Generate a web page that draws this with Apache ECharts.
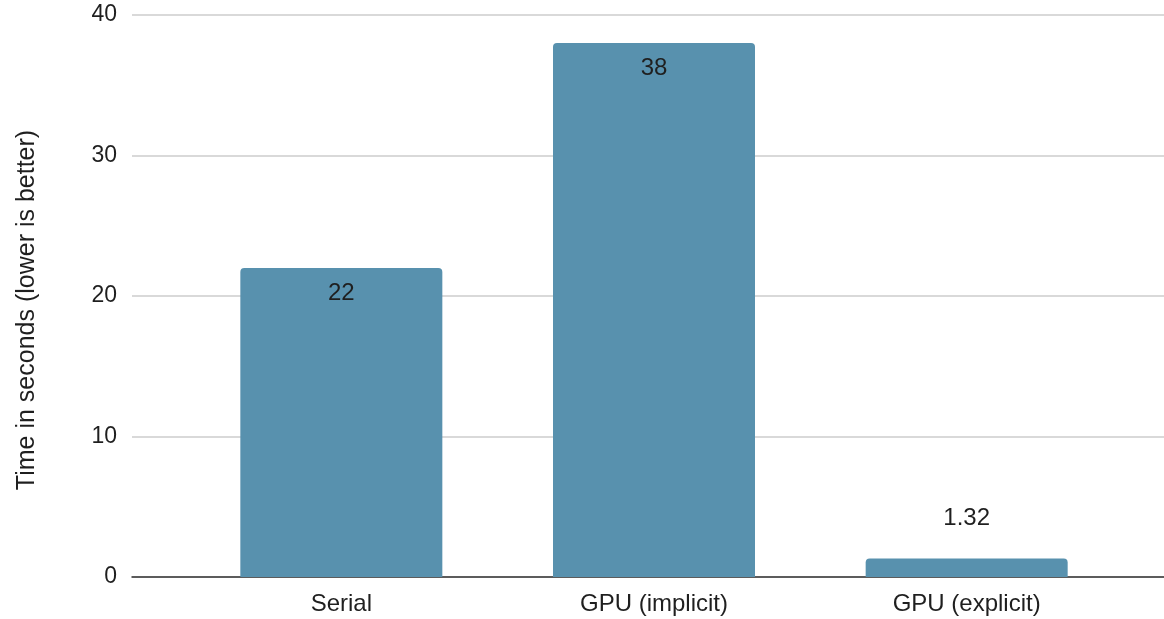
<!DOCTYPE html>
<html>
<head>
<meta charset="utf-8">
<script src="https://cdn.jsdelivr.net/npm/echarts@6/dist/echarts.min.js"></script>
<style>
  html, body { margin: 0; padding: 0; background: #fff; }
  #main { width: 1164px; height: 619px; }
</style>
</head>
<body>
<div id="main"></div>
<script>
const categories = ["Serial", "GPU (implicit)", "GPU (explicit)"];
const times = [22, 38, 1.32];
const yTicks = [0, 10, 20, 30, 40];

const font = "Liberation Sans, Arial, sans-serif";

const chart = echarts.init(document.getElementById("main"));

const barData = times.map((v) => ({
  value: v,
  label: v < 5
    ? { position: "top", distance: 28 }
    : { position: "insideTop", distance: 13 },
}));

chart.setOption({
  backgroundColor: "#fff",
  animation: false,
  textStyle: { fontFamily: font },
  grid: [
    // full width grid for gridlines and baseline
    { left: 132, right: 0, top: 15, bottom: 42 },
    // narrower grid for the bars
    { left: 185, right: 41, top: 15, bottom: 42 },
  ],
  xAxis: [
    {
      gridIndex: 0,
      type: "category",
      data: [""],
      axisLine: { lineStyle: { color: "#333", width: 1.5 } },
      axisTick: { show: false },
      axisLabel: { show: false },
    },
    {
      gridIndex: 1,
      type: "category",
      data: categories,
      axisLine: { show: false },
      axisTick: { show: false },
      axisLabel: { color: "#1f1f1f", fontSize: 24, margin: 15, fontFamily: font },
    },
  ],
  yAxis: [
    {
      gridIndex: 0,
      type: "value",
      min: yTicks[0],
      max: yTicks[yTicks.length - 1],
      interval: 10,
      name: "Time in seconds (lower is better)",
      nameLocation: "middle",
      nameGap: 92,
      nameTextStyle: { color: "#1f1f1f", fontSize: 25, fontFamily: font, padding: [0, 28, 0, 0] },
      axisLine: { show: false },
      axisTick: { show: false },
      axisLabel: { color: "#1f1f1f", fontSize: 23, margin: 15, fontFamily: font },
      splitLine: { lineStyle: { color: "#cccccc", width: 1.5 } },
    },
    {
      gridIndex: 1,
      type: "value",
      min: yTicks[0],
      max: yTicks[yTicks.length - 1],
      interval: 10,
      show: false,
    },
  ],
  series: [
    {
      type: "bar",
      xAxisIndex: 1,
      yAxisIndex: 1,
      data: barData,
      barWidth: 202,
      itemStyle: { color: "#5891ae", borderRadius: [4, 4, 0, 0] },
      label: {
        show: true,
        color: "#1f1f1f",
        fontSize: 24,
        fontFamily: font,
      },
      z: 1,
    },
  ],
});
</script>
</body>
</html>
